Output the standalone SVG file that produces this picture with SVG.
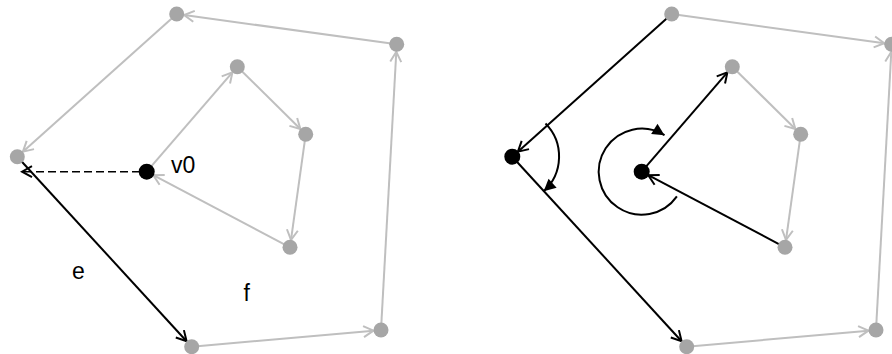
<svg xmlns="http://www.w3.org/2000/svg" width="892" height="354" viewBox="0 0 892 354">
<style>
.g{stroke:#bfbfbf;stroke-width:2;fill:none;marker-end:url(#ag)}
.k{stroke:#000;stroke-width:2;fill:none;marker-end:url(#ak)}
.d{stroke:#000;stroke-width:1.5;fill:none;stroke-dasharray:8 4;marker-end:url(#ak)}
.arc{stroke:#000;stroke-width:2;fill:none;marker-end:url(#tri)}
.n{fill:#a6a6a6}
.b{fill:#000}
text{font-family:"Liberation Sans","Open Sans",sans-serif;font-size:23px;fill:#000}
</style>
<defs>
<marker id="ag" viewBox="-12 -7 14 14" refX="0" refY="0" markerWidth="14" markerHeight="14" markerUnits="userSpaceOnUse" orient="auto">
<path d="M-10,-5.5 L0,0 L-10,5.5" fill="none" stroke="#bfbfbf" stroke-width="2"/>
</marker>
<marker id="ak" viewBox="-12 -7 14 14" refX="0" refY="0" markerWidth="14" markerHeight="14" markerUnits="userSpaceOnUse" orient="auto">
<path d="M-10,-5.5 L0,0 L-10,5.5" fill="none" stroke="#000" stroke-width="2"/>
</marker>
<marker id="tri" viewBox="-13 -7 14 14" refX="0" refY="0" markerWidth="14" markerHeight="14" markerUnits="userSpaceOnUse" orient="auto">
<path d="M-12,-6 L0,0 L-12,6 Z" fill="#000"/>
</marker>
</defs>
<g id="connectors">
<!-- left diagram -->
<line class="g" x1="396.7" y1="44.3" x2="184.1" y2="15.0"/>
<line class="g" x1="176.7" y1="14" x2="22.9" y2="151.7"/>
<line class="k" x1="17.3" y1="156.7" x2="186.6" y2="341.2"/>
<line class="g" x1="191.7" y1="346.7" x2="373.5" y2="330.7"/>
<line class="g" x1="381" y1="330" x2="396.3" y2="51.8"/>
<line class="g" x1="146.7" y1="171.7" x2="232.4" y2="72.4"/>
<line class="g" x1="237.3" y1="66.7" x2="300.4" y2="129.0"/>
<line class="g" x1="305.7" y1="134.3" x2="291.0" y2="239.9"/>
<line class="g" x1="290" y1="247.3" x2="153.3" y2="175.2"/>
<line class="d" x1="140" y1="171.7" x2="22" y2="171.7"/>
<!-- right diagram -->
<line class="k" x1="671.7" y1="14" x2="517.9" y2="151.7"/>
<line class="k" x1="512.3" y1="156.7" x2="681.6" y2="341.2"/>
<line class="g" x1="671.7" y1="14" x2="884.3" y2="43.3"/>
<line class="g" x1="686.7" y1="346.7" x2="868.5" y2="330.7"/>
<line class="g" x1="876" y1="330" x2="891.3" y2="51.8"/>
<line class="k" x1="641.7" y1="171.7" x2="727.4" y2="72.4"/>
<line class="g" x1="732.3" y1="66.7" x2="795.4" y2="129.0"/>
<line class="g" x1="800.7" y1="134.3" x2="786.0" y2="239.9"/>
<line class="k" x1="785" y1="247.3" x2="648.3" y2="175.2"/>
<path class="arc" d="M545.5,123.5 A47,47 0 0 1 543.7,191.3"/>
<path class="arc" d="M676.9,196.4 A43,43 0 1 1 664.5,135.2"/>
</g>
<g id="left-nodes">
<g id="lA"><circle class="n" cx="176.7" cy="14" r="7.5"/></g>
<g id="lB"><circle class="n" cx="396.7" cy="44.3" r="7.5"/></g>
<g id="lC"><circle class="n" cx="237.3" cy="66.7" r="7.5"/></g>
<g id="lD"><circle class="n" cx="305.7" cy="134.3" r="7.5"/></g>
<g id="lE"><circle class="n" cx="290" cy="247.3" r="7.5"/></g>
<g id="lF"><circle class="n" cx="191.7" cy="346.7" r="7.5"/></g>
<g id="lG"><circle class="n" cx="381" cy="330" r="7.5"/></g>
<g id="lL"><circle class="n" cx="17.3" cy="156.7" r="7.5"/></g>
<g id="lV"><circle class="b" cx="146.7" cy="171.7" r="8"/><text x="171" y="173">v0</text></g>
</g>
<g id="labels">
<text x="72" y="279">e</text>
<text x="243.5" y="301">f</text>
</g>
<g id="right-nodes">
<g id="rA"><circle class="n" cx="671.7" cy="14" r="7.5"/></g>
<g id="rB"><circle class="n" cx="891.7" cy="44.3" r="7.5"/></g>
<g id="rC"><circle class="n" cx="732.3" cy="66.7" r="7.5"/></g>
<g id="rD"><circle class="n" cx="800.7" cy="134.3" r="7.5"/></g>
<g id="rE"><circle class="n" cx="785" cy="247.3" r="7.5"/></g>
<g id="rF"><circle class="n" cx="686.7" cy="346.7" r="7.5"/></g>
<g id="rG"><circle class="n" cx="876" cy="330" r="7.5"/></g>
<g id="rL"><circle class="b" cx="512.3" cy="156.7" r="8"/></g>
<g id="rV"><circle class="b" cx="641.7" cy="171.7" r="8"/></g>
</g>
</svg>
